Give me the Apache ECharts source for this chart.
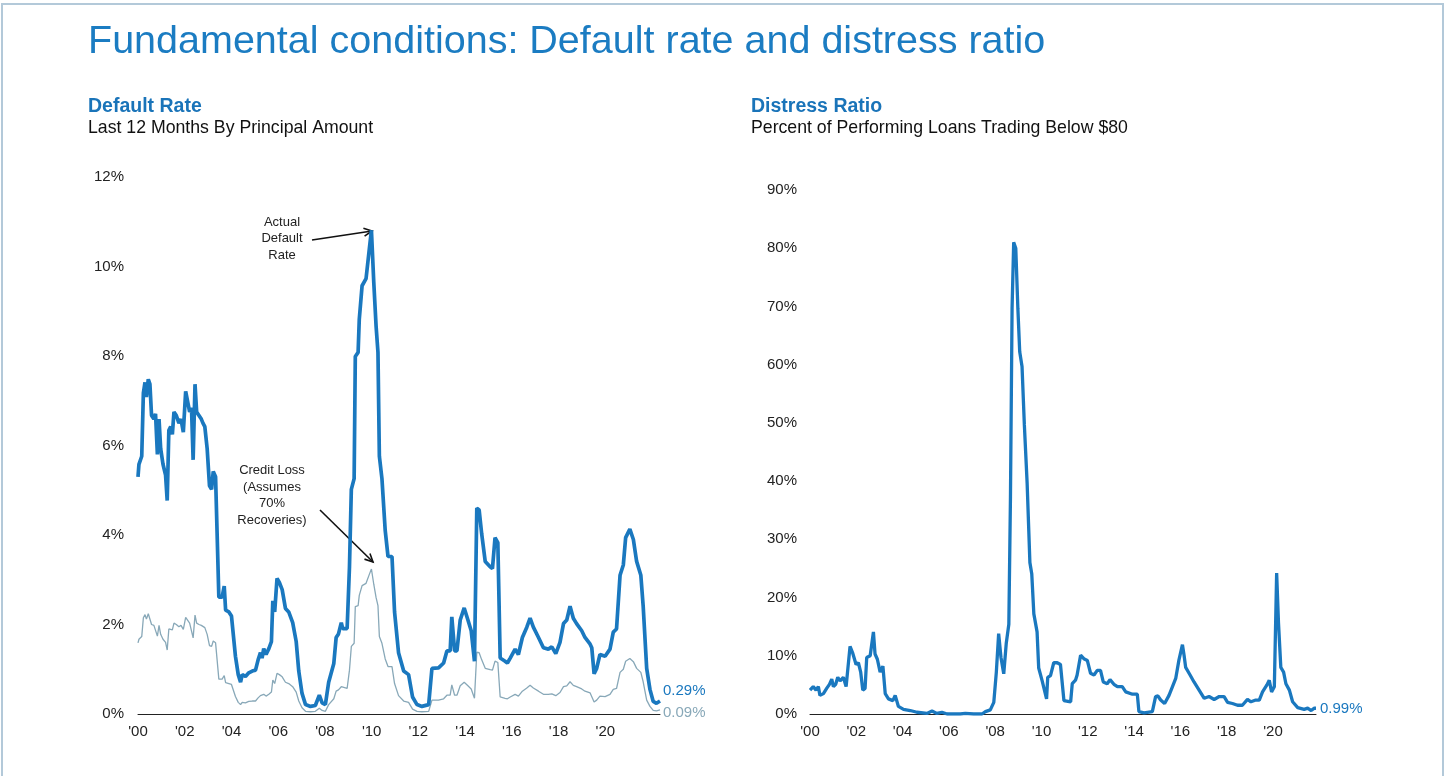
<!DOCTYPE html>
<html>
<head>
<meta charset="utf-8">
<title>Default rate and distress ratio</title>
<script src="https://cdn.jsdelivr.net/npm/echarts@6/dist/echarts.min.js"></script>
<style>
  html, body { margin: 0; padding: 0; background: #fff; }
  #main { width: 1447px; height: 776px; }
</style>
</head>
<body>
<div id="main"></div>
<script>
'use strict';
// Default rate, last 12 months by principal amount (%)
var defaultYears = [
  2000.00, 2000.04, 2000.16, 2000.23, 2000.30, 2000.36, 2000.44, 2000.51, 2000.58, 2000.68,
  2000.75, 2000.83, 2000.90, 2000.97, 2001.07, 2001.18, 2001.25, 2001.32, 2001.40, 2001.47,
  2001.54, 2001.64, 2001.75, 2001.84, 2001.94, 2002.04, 2002.12, 2002.21, 2002.29, 2002.36,
  2002.44, 2002.51, 2002.61, 2002.71, 2002.78, 2002.86, 2002.96, 2003.06, 2003.15, 2003.22,
  2003.32, 2003.39, 2003.46, 2003.60, 2003.69, 2003.75, 2003.89, 2004.00, 2004.17, 2004.29,
  2004.39, 2004.46, 2004.60, 2004.74, 2004.89, 2005.03, 2005.14, 2005.24, 2005.31, 2005.38,
  2005.48, 2005.60, 2005.71, 2005.77, 2005.85, 2005.95, 2006.05, 2006.17, 2006.31, 2006.45,
  2006.62, 2006.77, 2006.88, 2007.02, 2007.17, 2007.38, 2007.59, 2007.76, 2007.88, 2008.02,
  2008.16, 2008.38, 2008.48, 2008.58, 2008.70, 2008.76, 2008.95, 2009.05, 2009.13, 2009.25,
  2009.30, 2009.42, 2009.47, 2009.59, 2009.76, 2009.84, 2009.90, 2009.99, 2010.09, 2010.19,
  2010.27, 2010.33, 2010.44, 2010.58, 2010.70, 2010.87, 2010.98, 2011.15, 2011.37, 2011.58,
  2011.75, 2011.94, 2012.15, 2012.44, 2012.58, 2012.86, 2013.08, 2013.22, 2013.36, 2013.43,
  2013.55, 2013.65, 2013.79, 2013.96, 2014.12, 2014.26, 2014.40, 2014.50, 2014.60, 2014.71,
  2014.86, 2015.07, 2015.17, 2015.28, 2015.40, 2015.50, 2015.71, 2015.81, 2015.93, 2016.14,
  2016.28, 2016.45, 2016.64, 2016.78, 2016.92, 2017.14, 2017.35, 2017.56, 2017.71, 2017.88,
  2018.06, 2018.21, 2018.35, 2018.49, 2018.63, 2018.77, 2018.99, 2019.13, 2019.35, 2019.42,
  2019.52, 2019.63, 2019.77, 2019.99, 2020.20, 2020.34, 2020.48, 2020.63, 2020.77, 2020.87,
  2021.05, 2021.20, 2021.34, 2021.52, 2021.62, 2021.77, 2021.91, 2022.05, 2022.19, 2022.34
];
var defaultRate = [
  5.30, 5.58, 5.76, 7.17, 7.41, 7.08, 7.48, 7.37, 6.67, 6.59,
  6.71, 5.80, 6.59, 5.93, 5.58, 5.34, 4.77, 6.34, 6.42, 6.25,
  6.75, 6.67, 6.50, 6.59, 6.30, 7.21, 7.21, 6.75, 6.84, 5.68,
  7.37, 6.75, 6.67, 6.59, 6.50, 6.42, 5.93, 5.10, 5.02, 5.42,
  5.30, 5.26, 2.61, 2.61, 2.86, 2.32, 2.28, 2.19, 1.29, 0.88,
  0.71, 0.88, 0.84, 0.92, 0.96, 0.98, 1.21, 1.37, 1.25, 1.46,
  1.33, 1.46, 1.62, 2.53, 2.28, 3.03, 2.94, 2.78, 2.36, 2.28,
  2.04, 1.62, 0.96, 0.46, 0.21, 0.17, 0.19, 0.42, 0.25, 0.21,
  0.71, 1.13, 1.71, 1.79, 2.04, 1.91, 1.91, 3.28, 5.02, 5.26,
  7.99, 8.08, 8.82, 9.57, 9.73, 9.73, 10.39, 10.81, 9.65, 8.66,
  8.08, 5.76, 5.26, 4.10, 3.52, 3.52, 2.28, 1.37, 0.96, 0.88,
  0.38, 0.21, 0.17, 0.21, 1.02, 1.03, 1.14, 1.41, 1.41, 2.17,
  1.41, 1.41, 2.10, 2.37, 2.10, 1.86, 1.18, 4.60, 4.56, 4.02,
  3.41, 3.29, 3.25, 3.94, 3.83, 1.25, 1.18, 1.14, 1.25, 1.45,
  1.33, 1.71, 1.94, 2.14, 1.94, 1.71, 1.48, 1.45, 1.50, 1.35,
  1.60, 2.02, 2.10, 2.41, 2.14, 2.02, 1.86, 1.71, 1.56, 1.48,
  0.90, 1.02, 1.33, 1.29, 1.45, 1.83, 1.90, 3.10, 3.33, 3.94,
  4.13, 3.90, 3.41, 3.10, 2.41, 1.02, 0.55, 0.28, 0.24, 0.29
];
// credit loss (assumes 70% recoveries), same dates
var creditLoss = [
  1.59, 1.67, 1.73, 2.15, 2.22, 2.12, 2.24, 2.21, 2.00, 1.98,
  2.01, 1.74, 1.98, 1.78, 1.67, 1.60, 1.43, 1.90, 1.93, 1.88,
  2.03, 2.00, 1.95, 1.98, 1.89, 2.16, 2.16, 2.03, 2.05, 1.70,
  2.21, 2.03, 2.00, 1.98, 1.95, 1.93, 1.78, 1.53, 1.51, 1.63,
  1.59, 1.58, 0.78, 0.78, 0.86, 0.70, 0.68, 0.66, 0.39, 0.26,
  0.21, 0.26, 0.25, 0.28, 0.29, 0.29, 0.36, 0.41, 0.38, 0.44,
  0.40, 0.44, 0.49, 0.76, 0.68, 0.91, 0.88, 0.83, 0.71, 0.68,
  0.61, 0.49, 0.29, 0.14, 0.06, 0.05, 0.06, 0.13, 0.08, 0.06,
  0.21, 0.34, 0.51, 0.54, 0.61, 0.57, 0.57, 0.98, 1.51, 1.58,
  2.40, 2.42, 2.65, 2.87, 2.92, 2.92, 3.12, 3.24, 2.90, 2.60,
  2.42, 1.73, 1.58, 1.23, 1.06, 1.06, 0.68, 0.41, 0.29, 0.26,
  0.11, 0.06, 0.05, 0.06, 0.31, 0.31, 0.34, 0.42, 0.42, 0.65,
  0.42, 0.42, 0.63, 0.71, 0.63, 0.56, 0.35, 1.38, 1.37, 1.21,
  1.02, 0.99, 0.98, 1.18, 1.15, 0.38, 0.35, 0.34, 0.38, 0.44,
  0.40, 0.51, 0.58, 0.64, 0.58, 0.51, 0.44, 0.44, 0.45, 0.41,
  0.48, 0.61, 0.63, 0.72, 0.64, 0.61, 0.56, 0.51, 0.47, 0.44,
  0.27, 0.31, 0.40, 0.39, 0.44, 0.55, 0.57, 0.93, 1.00, 1.18,
  1.24, 1.17, 1.02, 0.93, 0.72, 0.31, 0.17, 0.08, 0.07, 0.09
];
// distress ratio, % of performing loans trading below $80
var distressYears = [
  2000.00, 2000.14, 2000.26, 2000.36, 2000.43, 2000.58, 2000.72, 2000.84, 2000.94, 2001.01,
  2001.11, 2001.20, 2001.30, 2001.44, 2001.56, 2001.73, 2001.85, 2001.99, 2002.09, 2002.19,
  2002.28, 2002.38, 2002.45, 2002.60, 2002.68, 2002.74, 2002.81, 2002.91, 2003.03, 2003.15,
  2003.25, 2003.39, 2003.58, 2003.68, 2003.82, 2004.04, 2004.33, 2004.62, 2005.05, 2005.27,
  2005.48, 2005.70, 2005.92, 2006.49, 2006.71, 2007.07, 2007.43, 2007.58, 2007.79, 2007.94,
  2008.05, 2008.15, 2008.25, 2008.37, 2008.48, 2008.59, 2008.66, 2008.73, 2008.80, 2008.89,
  2008.98, 2009.06, 2009.16, 2009.26, 2009.38, 2009.50, 2009.58, 2009.67, 2009.81, 2009.88,
  2010.03, 2010.22, 2010.27, 2010.39, 2010.53, 2010.68, 2010.82, 2010.97, 2011.26, 2011.33,
  2011.47, 2011.54, 2011.69, 2011.83, 2011.98, 2012.12, 2012.27, 2012.41, 2012.55, 2012.67,
  2012.84, 2012.96, 2013.13, 2013.28, 2013.49, 2013.64, 2013.93, 2014.14, 2014.21, 2014.43,
  2014.79, 2014.93, 2015.03, 2015.15, 2015.32, 2015.51, 2015.66, 2015.80, 2015.94, 2016.09,
  2016.16, 2016.23, 2016.42, 2016.59, 2016.81, 2017.03, 2017.24, 2017.46, 2017.68, 2017.89,
  2018.04, 2018.25, 2018.47, 2018.68, 2018.90, 2019.05, 2019.26, 2019.41, 2019.55, 2019.74,
  2019.84, 2019.94, 2020.06, 2020.16, 2020.24, 2020.34, 2020.46, 2020.56, 2020.71, 2020.85,
  2021.07, 2021.35, 2021.50, 2021.65, 2021.79, 2021.86
];
var distressRatio = [
  4.1, 4.7, 4.1, 4.7, 3.2, 3.5, 4.4, 5.1, 6.0, 4.7,
  5.1, 6.3, 5.7, 6.3, 4.7, 11.6, 10.4, 8.5, 8.8, 7.2,
  4.1, 4.4, 9.7, 10.0, 9.7, 14.1, 10.3, 9.4, 7.2, 8.2,
  3.5, 2.6, 2.3, 3.2, 1.3, 0.8, 0.6, 0.3, 0.1, 0.5,
  0.1, 0.3, 0.0, 0.0, 0.1, 0.0, 0.0, 0.4, 0.7, 2.0,
  7.2, 13.8, 9.7, 6.9, 12.2, 15.4, 37.2, 69.7, 81.0, 80.0,
  69.7, 62.2, 59.7, 49.7, 39.7, 26.0, 24.1, 17.2, 14.1, 7.9,
  5.7, 2.6, 6.3, 6.6, 8.8, 8.8, 8.5, 2.3, 2.1, 5.2,
  5.8, 6.7, 10.1, 9.5, 9.2, 7.0, 6.7, 7.5, 7.5, 5.5,
  5.2, 5.9, 5.1, 4.7, 4.7, 3.8, 3.4, 3.4, 0.4, 0.2,
  0.4, 3.0, 3.1, 2.4, 1.8, 3.2, 4.7, 6.1, 9.3, 11.9,
  10.1, 8.0, 6.7, 5.5, 4.1, 2.7, 3.0, 2.5, 3.0, 3.0,
  2.0, 1.8, 1.5, 1.5, 2.5, 2.1, 2.4, 2.4, 3.8, 5.0,
  5.8, 3.8, 4.7, 24.2, 15.6, 8.0, 7.2, 5.2, 4.1, 2.1,
  1.1, 0.8, 1.0, 0.6, 1.0, 0.99
];

var FONT = '"Liberation Sans", Arial, sans-serif';
var BLUE = '#1a78bf';
var GREY = '#88a8b8';
var TEXT = '#222';

function pairs(xs, ys) {
  var out = [];
  for (var i = 0; i < xs.length; i++) out.push([xs[i], ys[i]]);
  return out;
}

// '00, '02 ... '20
function yearLabel(v) {
  return (v % 2 === 0 && v <= 2020) ? "'" + String(v).slice(2) : '';
}

function pctLabel(p) {
  return p.value[1].toFixed(2) + '%';
}

function arrow(x1, y1, x2, y2) {
  var a = Math.atan2(y2 - y1, x2 - x1), len = 9, spread = 0.45;
  return {
    type: 'group',
    children: [
      { type: 'line', shape: { x1: x1, y1: y1, x2: x2, y2: y2 }, style: { stroke: '#111', lineWidth: 1.6 } },
      { type: 'polyline', shape: { points: [
          [x2 - len * Math.cos(a - spread), y2 - len * Math.sin(a - spread)],
          [x2, y2],
          [x2 - len * Math.cos(a + spread), y2 - len * Math.sin(a + spread)]
        ] }, style: { stroke: '#111', lineWidth: 1.6, fill: null } }
    ]
  };
}

function text(x, y, str, size, weight, color, align, lh) {
  return {
    type: 'text', x: x, y: y, silent: true,
    style: {
      text: str, fontSize: size, fontWeight: weight, fontFamily: FONT, fill: color,
      align: align || 'left', verticalAlign: 'top', lineHeight: lh || size
    }
  };
}

var xAxisBase = {
  type: 'value', min: 2000, interval: 2,
  axisLine: { show: true, lineStyle: { color: '#222', width: 1 } },
  axisTick: { show: false },
  splitLine: { show: false },
  axisLabel: { formatter: yearLabel, color: TEXT, fontSize: 15, fontFamily: FONT, margin: 10 }
};
var yAxisBase = {
  type: 'value', min: 0,
  axisLine: { show: false }, axisTick: { show: false }, splitLine: { show: false },
  axisLabel: { formatter: '{value}%', color: TEXT, fontSize: 15, fontFamily: FONT, margin: 14 }
};

var chart = echarts.init(document.getElementById('main'));
var option = {
  animation: false,
  backgroundColor: '#fff',
  grid: [
    { left: 138, right: 787, top: 177, bottom: 62 },
    { left: 810, right: 131, top: 190, bottom: 62 }
  ],
  xAxis: [
    Object.assign({}, xAxisBase, { gridIndex: 0, max: 2022.34 }),
    Object.assign({}, xAxisBase, { gridIndex: 1, max: 2021.86 })
  ],
  yAxis: [
    Object.assign({}, yAxisBase, { gridIndex: 0, max: 12, interval: 2 }),
    Object.assign({}, yAxisBase, { gridIndex: 1, max: 90, interval: 10, axisLabel: Object.assign({}, yAxisBase.axisLabel, { margin: 13 }) })
  ],
  series: [
    {
      name: 'Credit Loss', type: 'line', xAxisIndex: 0, yAxisIndex: 0,
      data: pairs(defaultYears, creditLoss),
      showSymbol: false, silent: true, z: 2,
      lineStyle: { color: GREY, width: 1.3 }, itemStyle: { color: GREY },
      endLabel: { show: true, formatter: pctLabel, color: GREY, fontSize: 15, fontFamily: FONT, distance: 3, offset: [0, 3] }
    },
    {
      name: 'Actual Default Rate', type: 'line', xAxisIndex: 0, yAxisIndex: 0,
      data: pairs(defaultYears, defaultRate),
      showSymbol: false, silent: true, z: 3,
      lineStyle: { color: BLUE, width: 3.7 }, itemStyle: { color: BLUE },
      endLabel: { show: true, formatter: pctLabel, color: BLUE, fontSize: 15, fontFamily: FONT, distance: 3, offset: [0, -10] }
    },
    {
      name: 'Distress Ratio', type: 'line', xAxisIndex: 1, yAxisIndex: 1,
      data: pairs(distressYears, distressRatio),
      showSymbol: false, silent: true, z: 3,
      lineStyle: { color: BLUE, width: 3.3 }, itemStyle: { color: BLUE },
      endLabel: { show: true, formatter: pctLabel, color: BLUE, fontSize: 15, fontFamily: FONT, distance: 4, offset: [0, 1] }
    }
  ],
  graphic: [
    { type: 'rect', silent: true, shape: { x: 2, y: 4, width: 1441, height: 800 },
      style: { stroke: '#b3c9d9', lineWidth: 2, fill: null } },
    text(88, 22, 'Fundamental conditions: Default rate and distress ratio', 39.5, 'normal', '#1b7cc2'),
    text(88, 97, 'Default Rate', 19.5, 'bold', '#1a74b9'),
    text(88, 119, 'Last 12 Months By Principal Amount', 17.7, 'normal', '#111'),
    text(751, 97, 'Distress Ratio', 19.5, 'bold', '#1a74b9'),
    text(751, 119, 'Percent of Performing Loans Trading Below $80', 17.7, 'normal', '#111'),
    text(282, 214, 'Actual\nDefault\nRate', 13, 'normal', '#222', 'center', 16.5),
    text(272, 462.5, 'Credit Loss\n(Assumes\n70%\nRecoveries)', 13, 'normal', '#222', 'center', 16.5),
    arrow(312, 240, 372, 231),
    arrow(320, 510, 373, 562)
  ]
};
chart.setOption(option);
window.addEventListener('resize', function () {
  chart.resize();
});
</script>
</body>
</html>
